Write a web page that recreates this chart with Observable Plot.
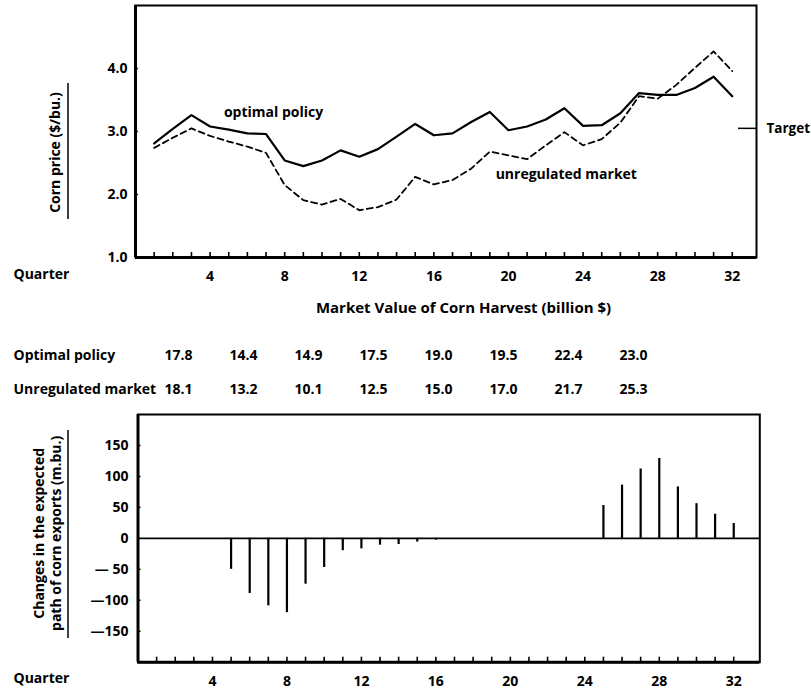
<!DOCTYPE html>
<html><head><meta charset="utf-8">
<script src="https://cdn.jsdelivr.net/npm/d3@7"></script>
<script src="https://cdn.jsdelivr.net/npm/@observablehq/plot@0.6"></script>
<style>
html,body{margin:0;padding:0;background:#fff;}
#wrap{position:relative;width:811px;height:692px;overflow:hidden;background:#fff;}
#wrap svg{position:absolute;left:0;}
</style></head><body><div id="wrap"></div>
<script>
// ---------- data ----------
const quarters = [1,2,3,4,5,6,7,8,9,10,11,12,13,14,15,16,17,18,19,20,21,22,23,24,25,26,27,28,29,30,31,32];
const optimalPrice = [2.81,3.04,3.26,3.08,3.03,2.97,2.96,2.54,2.45,2.54,2.70,2.60,2.72,2.92,3.12,2.94,2.97,3.15,3.31,3.02,3.08,3.19,3.37,3.09,3.10,3.29,3.61,3.58,3.58,3.69,3.87,3.56];
const unregulatedPrice = [2.74,2.90,3.05,2.93,2.84,2.76,2.66,2.15,1.91,1.84,1.93,1.75,1.80,1.92,2.28,2.16,2.23,2.41,2.68,2.62,2.56,2.78,2.99,2.78,2.88,3.14,3.56,3.52,3.74,4.01,4.27,3.96];
const targetPrice = [3.05];
const priceTicks = [1,2,3,4];
const quarterTicks = [4,8,12,16,20,24,28,32];

const valueColumns = [1,2,3,4,5,6,7,8];
const rowLabels = ["Optimal policy","Unregulated market"];
const optimalValue = ["17.8","14.4","14.9","17.5","19.0","19.5","22.4","23.0"];
const unregulatedValue = ["18.1","13.2","10.1","12.5","15.0","17.0","21.7","25.3"];

const exportQuarters = [5,6,7,8,9,10,11,12,13,14,15,16,25,26,27,28,29,30,31,32];
const exportChange = [-50,-89,-109,-120,-74,-47,-20,-17,-11,-10,-6,-3,53,86,112,129,83,56,39,24];
const exportTicks = [150,100,50,0,-50,-100,-150];
const exportTickLabels = ["150","100","50","0","\u2014 50","\u2014100","\u2014150"];

// ---------- helpers ----------
const FONT = "'Open Sans', Lato, sans-serif";
const W = 811;
const baseStyle = {fontFamily: FONT, fontSize: "14px", fontWeight: "bold", color: "#000", background: "transparent", overflow: "visible"};
const wrap = document.getElementById("wrap");

// ---------- top chart ----------
const topDims = {height: 292, marginLeft: 135, marginRight: 55, marginTop: 5, marginBottom: 35};
const topPlotW = W - topDims.marginLeft - topDims.marginRight;
const topPlotH = topDims.height - topDims.marginTop - topDims.marginBottom;
const optRows = quarters.map((q, i) => ({q, v: optimalPrice[i]}));
const unrRows = quarters.map((q, i) => ({q, v: unregulatedPrice[i]}));

const topChart = Plot.plot({
  width: W, ...topDims,
  style: baseStyle,
  x: {domain: [0, 33.3], ticks: quarterTicks, tickSize: 0, tickPadding: 14, label: null, tickFormat: d => String(d)},
  y: {domain: [1, 5], ticks: priceTicks, tickSize: 0, tickPadding: 8, label: null, tickFormat: d => d.toFixed(1)},
  marks: [
    Plot.line(unrRows, {x: "q", y: "v", stroke: "#000", strokeWidth: 1.8, strokeDasharray: "6,4"}),
    Plot.line(optRows, {x: "q", y: "v", stroke: "#000", strokeWidth: 2.2}),
    Plot.text(["optimal policy"], {x: [7.4], y: [3.30], text: d => d}),
    Plot.text(["unregulated market"], {x: [23.1], y: [2.32], text: d => d}),
    Plot.tickX(quarters, {x: d => d, insetTop: topPlotH - 5, strokeWidth: 1.6}),
    Plot.tickY(priceTicks.filter(d => d > 1), {y: d => d, insetRight: topPlotW - 3, strokeWidth: 1.5}),
    Plot.tickY(targetPrice, {y: d => d, insetLeft: topPlotW - 18, strokeWidth: 1.5}),
    Plot.text(targetPrice, {y: d => d, frameAnchor: "right", dx: 10, textAnchor: "start", fontSize: 13.5, text: () => "Target"}),
    Plot.frame({stroke: "#000", strokeWidth: 2}),
    Plot.ruleX([0], {strokeWidth: 3}),
    Plot.ruleY([1], {strokeWidth: 3}),
    Plot.text(["Quarter"], {frameAnchor: "bottom-left", dx: -122, dy: 21, textAnchor: "start", text: d => d}),
    Plot.text(["Corn price ($/bu.)"], {frameAnchor: "left", textAnchor: "middle", dx: -80, dy: 21, rotate: -90, text: d => d})
  ]
});
topChart.style.top = "0px";
d3.select(topChart).append("line").attr("x1", 68).attr("x2", 68).attr("y1", 83).attr("y2", 219)
  .attr("stroke", "#000").attr("stroke-width", 1.5);
wrap.appendChild(topChart);

// ---------- middle table ----------
const tableRows = [];
valueColumns.forEach((c, i) => {
  tableRows.push({col: c, row: rowLabels[0], value: optimalValue[i]});
  tableRows.push({col: c, row: rowLabels[1], value: unregulatedValue[i]});
});
const midChart = Plot.plot({
  width: W, height: 110, marginLeft: 13, marginRight: 0, marginTop: 0, marginBottom: 0,
  style: baseStyle,
  x: {type: "point", domain: valueColumns, range: [178, 633], padding: 0, axis: null},
  y: {type: "point", domain: rowLabels, range: [65, 99], padding: 0, axis: null},
  marks: [
    Plot.text(tableRows, {x: "col", y: "row", text: "value"}),
    Plot.text(rowLabels, {y: d => d, frameAnchor: "left", textAnchor: "start", text: d => d}),
    Plot.text(["Market Value of Corn Harvest (billion $)"], {frameAnchor: "top", lineAnchor: "middle", dx: 51, dy: 18, fontSize: 15, text: d => d})
  ]
});
midChart.style.top = "290px";
wrap.appendChild(midChart);

// ---------- bottom chart ----------
const botDims = {height: 292, marginLeft: 137.5, marginRight: 51.7, marginTop: 14, marginBottom: 30.3};
const botPlotW = W - botDims.marginLeft - botDims.marginRight;
const botPlotH = botDims.height - botDims.marginTop - botDims.marginBottom;
const expRows = exportQuarters.map((q, i) => ({q, v: exportChange[i]}));
const botChart = Plot.plot({
  width: W, ...botDims,
  style: baseStyle,
  x: {domain: [0, 33.4], ticks: quarterTicks, tickSize: 0, tickPadding: 14, label: null, tickFormat: d => String(d)},
  y: {domain: [-200, 200], ticks: exportTicks, tickSize: 0, tickPadding: 9.5, label: null,
      tickFormat: d => exportTickLabels[exportTicks.indexOf(d)]},
  marks: [
    Plot.ruleY([0], {stroke: "#000", strokeWidth: 1.8}),
    Plot.ruleX(expRows, {x: "q", y1: 0, y2: "v", stroke: "#000", strokeWidth: 2.2}),
    Plot.tickX(quarters, {x: d => d, insetTop: botPlotH - 5, strokeWidth: 1.6}),
    Plot.tickY(exportTicks.filter(d => d !== 0), {y: d => d, insetRight: botPlotW - 3, strokeWidth: 1.5}),
    Plot.frame({stroke: "#000", strokeWidth: 2}),
    Plot.ruleX([0], {strokeWidth: 3}),
    Plot.ruleY([-200], {strokeWidth: 3}),
    Plot.text(["Quarter"], {frameAnchor: "bottom-left", dx: -124.5, dy: 21, textAnchor: "start", text: d => d}),
    Plot.text(["Changes in the expected\npath of corn exports (m.bu.)"], {frameAnchor: "left", textAnchor: "middle", dx: -91, dy: -5, rotate: -90, lineHeight: 1.2, text: d => d})
  ]
});
botChart.style.top = "400px";
d3.select(botChart).append("line").attr("x1", 68).attr("x2", 68).attr("y1", 30).attr("y2", 238)
  .attr("stroke", "#000").attr("stroke-width", 1.5);
wrap.appendChild(botChart);
</script></body></html>
